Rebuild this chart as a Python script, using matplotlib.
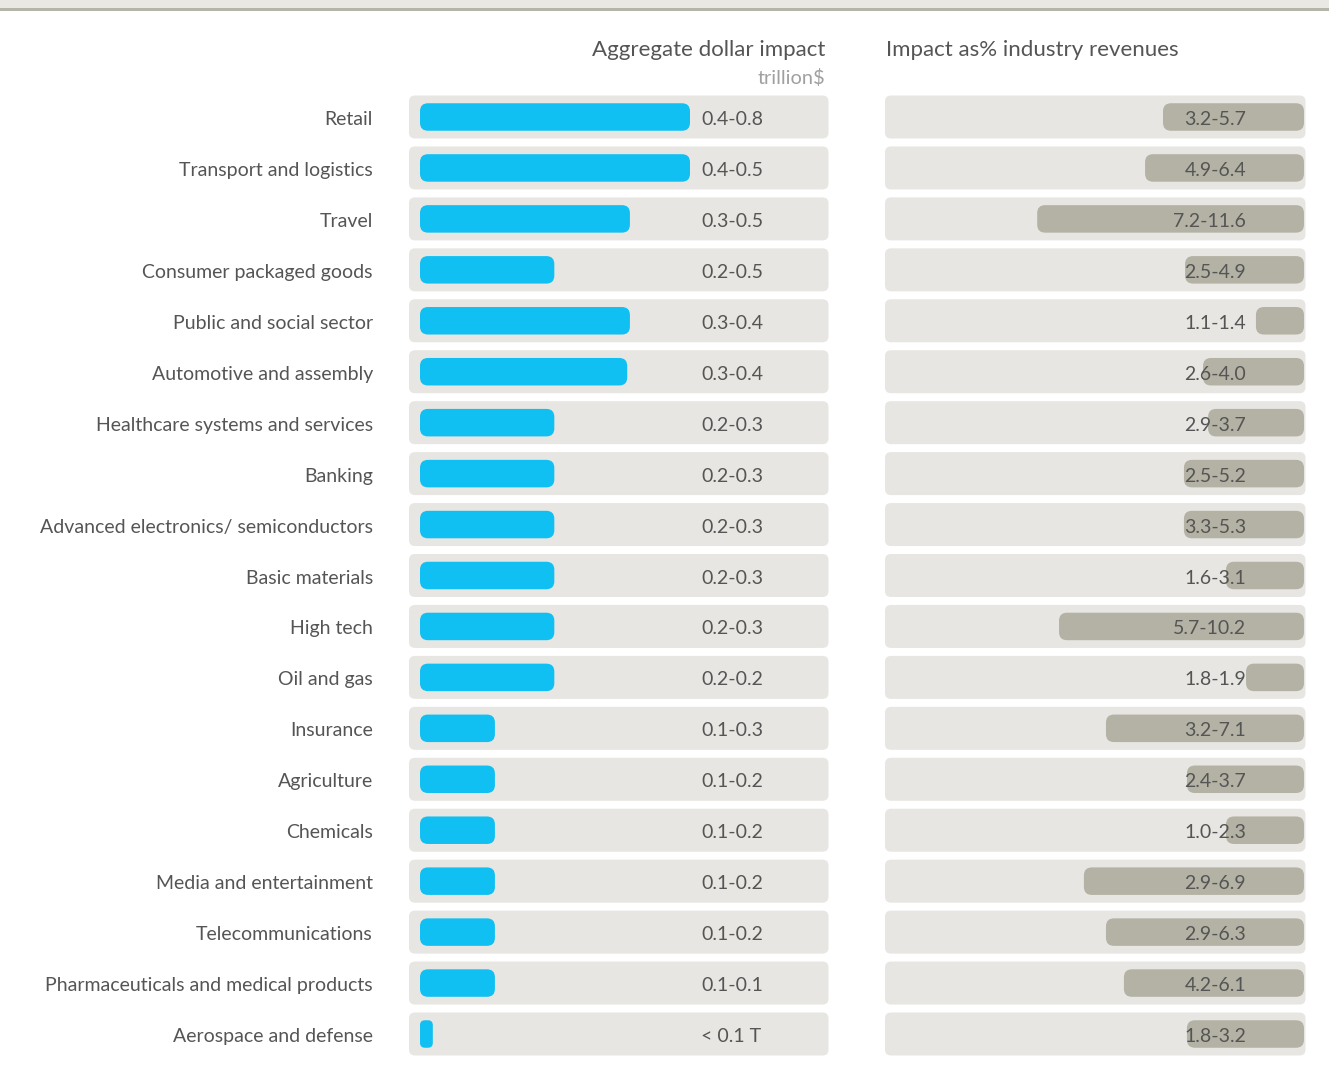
import matplotlib
matplotlib.use("Agg")
import matplotlib.pyplot as plt
from matplotlib.patches import FancyBboxPatch, Rectangle
import matplotlib.transforms as mtransforms

plt.rcParams['font.family'] = ['Lato', 'DejaVu Sans']

# ---------------- data ----------------
categories = [
    "Retail", "Transport and logistics", "Travel", "Consumer packaged goods",
    "Public and social sector", "Automotive and assembly",
    "Healthcare systems and services", "Banking",
    "Advanced electronics/ semiconductors", "Basic materials", "High tech",
    "Oil and gas", "Insurance", "Agriculture", "Chemicals",
    "Media and entertainment", "Telecommunications",
    "Pharmaceuticals and medical products", "Aerospace and defense",
]
dollar_labels = [
    "0.4-0.8", "0.4-0.5", "0.3-0.5", "0.2-0.5", "0.3-0.4", "0.3-0.4",
    "0.2-0.3", "0.2-0.3", "0.2-0.3", "0.2-0.3", "0.2-0.3", "0.2-0.2",
    "0.1-0.3", "0.1-0.2", "0.1-0.2", "0.1-0.2", "0.1-0.2", "0.1-0.1",
    "< 0.1 T",
]
# bar lengths (trillion $)
dollar_values = [
    0.400, 0.400, 0.311, 0.199, 0.311, 0.307, 0.199, 0.199, 0.199, 0.199,
    0.199, 0.199, 0.111, 0.111, 0.111, 0.111, 0.111, 0.111, 0.019,
]
pct_labels = [
    "3.2-5.7", "4.9-6.4", "7.2-11.6", "2.5-4.9", "1.1-1.4", "2.6-4.0",
    "2.9-3.7", "2.5-5.2", "3.3-5.3", "1.6-3.1", "5.7-10.2", "1.8-1.9",
    "3.2-7.1", "2.4-3.7", "1.0-2.3", "2.9-6.9", "2.9-6.3", "4.2-6.1",
    "1.8-3.2",
]
# bar lengths (% of revenues, display scale)
pct_values = [
    6.13, 6.91, 11.6, 5.17, 2.09, 4.39, 4.17, 5.22, 5.22, 3.39, 10.65,
    2.52, 8.61, 5.09, 3.39, 9.57, 8.61, 7.83, 5.09,
]

# ---------------- style ----------------
W, H = 1329, 1070
DPI = 100
BLUE = "#10c0f2"
GREY_BAR = "#b3b2a4"
BG = "#e7e6e2"
TXT = "#555555"
LIGHT_TXT = "#a0a0a0"
FS = 14.0
FS_HEAD = 16.0
FS_SUB = 14.4

fig = plt.figure(figsize=(W / DPI, H / DPI), dpi=DPI)
fig.patch.set_facecolor("white")

# top band
fig.patches.append(Rectangle((0, 1 - 9 / H), 1, 9 / H, transform=fig.transFigure,
                             facecolor="#e9e8e4", edgecolor="none"))
fig.patches.append(Rectangle((0, 1 - 10.5 / H), 1, 2.2 / H, transform=fig.transFigure,
                             facecolor="#b5b4a8", edgecolor="none"))

n = len(categories)
row_px = (1034 - 117) / (n - 1)
top_px = 117 - row_px / 2
bot_px = 1034 + row_px / 2


def px_axes(x0, x1):
    return fig.add_axes([x0 / W, 1 - bot_px / H, (x1 - x0) / W, (bot_px - top_px) / H])


BG_H = 43 / row_px
BAR_H = 27.5 / row_px
shift = mtransforms.ScaledTranslation(0, -2.5 / DPI, fig.dpi_scale_trans)

# ---------------- left panel ----------------
axL = px_axes(409, 828.5)
scaleL = 675.0  # px per trillion
x_left = (409 - 420) / scaleL
x_right = (828.5 - 420) / scaleL
axL.set_xlim(x_left, x_right)
axL.set_ylim(n - 0.5, -0.5)
axL.axis("off")

xpp_L = (x_right - x_left) / 419.5  # x data units per px
ypp = 1.0 / row_px                   # y data units per px
aspL = ypp / xpp_L
trL = mtransforms.blended_transform_factory(axL.transAxes, axL.transData) + shift

for i, (cat, v, lab) in enumerate(zip(categories, dollar_values, dollar_labels)):
    axL.add_patch(FancyBboxPatch((x_left, i - BG_H / 2), x_right - x_left, BG_H,
                                 boxstyle=f"round,pad=0,rounding_size={6 * xpp_L}",
                                 mutation_aspect=aspL, facecolor=BG, edgecolor="none",
                                 clip_on=False))
    axL.add_patch(FancyBboxPatch((0, i - BAR_H / 2), v, BAR_H,
                                 boxstyle=f"round,pad=0,rounding_size={min(8, v * scaleL / 2.6) * xpp_L}",
                                 mutation_aspect=aspL, facecolor=BLUE, edgecolor="none",
                                 clip_on=False))
    axL.text(0.697, i, lab, transform=trL,
             ha="left", va="center", fontsize=FS, color=TXT)
    axL.text(-0.086, i, cat, transform=trL,
             ha="right", va="center", fontsize=FS, color=TXT)

fig.text(825 / W, 1 - 50 / H, "Aggregate dollar impact", ha="right", va="center",
         fontsize=FS_HEAD, color=TXT)
fig.text(825 / W, 1 - 78 / H, "trillion$", ha="right", va="center",
         fontsize=FS_SUB, color=LIGHT_TXT)
fig.text(886 / W, 1 - 50 / H, "Impact as% industry revenues", ha="left", va="center",
         fontsize=FS_HEAD, color=TXT)

# ---------------- right panel ----------------
axR = px_axes(885, 1305.5)
scaleR = 23.0  # px per display unit
xr_left = (1304 - 885) / scaleR
xr_right = (1304 - 1305.5) / scaleR
axR.set_xlim(xr_left, xr_right)
axR.set_ylim(n - 0.5, -0.5)
axR.axis("off")
xpp_R = (xr_left - xr_right) / 420.5
aspR = ypp / xpp_R
trR = mtransforms.blended_transform_factory(axR.transAxes, axR.transData) + shift

for i, (v, lab) in enumerate(zip(pct_values, pct_labels)):
    axR.add_patch(FancyBboxPatch((xr_right, i - BG_H / 2), xr_left - xr_right, BG_H,
                                 boxstyle=f"round,pad=0,rounding_size={6 * xpp_R}",
                                 mutation_aspect=aspR, facecolor=BG, edgecolor="none",
                                 clip_on=False))
    axR.add_patch(FancyBboxPatch((0, i - BAR_H / 2), v, BAR_H,
                                 boxstyle=f"round,pad=0,rounding_size={8 * xpp_R}",
                                 mutation_aspect=aspR, facecolor=GREY_BAR, edgecolor="none",
                                 clip_on=False))
    axR.text((1246 - 885) / 420.5, i, lab, transform=trR,
             ha="right", va="center", fontsize=FS, color=TXT, zorder=5)

fig.savefig("out.png", dpi=DPI, facecolor="white")
